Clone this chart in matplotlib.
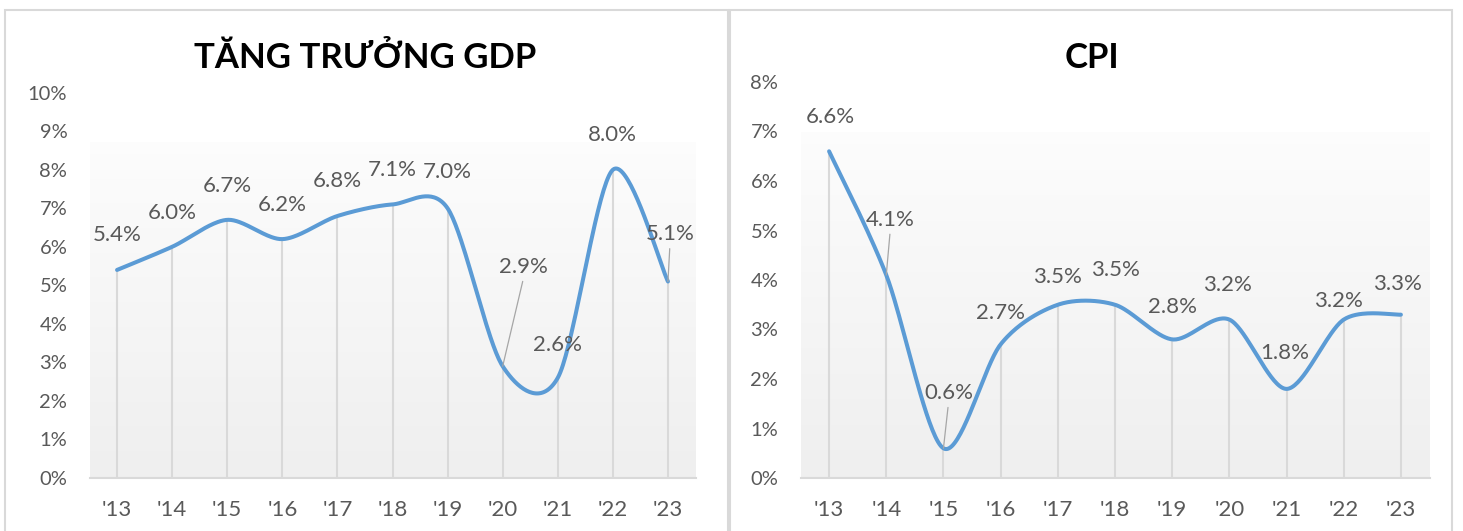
import numpy as np
import matplotlib.pyplot as plt
from matplotlib.patches import Rectangle

plt.rcParams['font.family'] = ['Lato', 'DejaVu Sans']

# data
years = ["'13", "'14", "'15", "'16", "'17", "'18", "'19", "'20", "'21", "'22", "'23"]
gdp = [5.4, 6.0, 6.7, 6.2, 6.8, 7.1, 7.0, 2.9, 2.6, 8.0, 5.1]
cpi = [6.6, 4.1, 0.6, 2.7, 3.5, 3.5, 2.8, 3.2, 1.8, 3.2, 3.3]

# label offsets in pixels from the point, and which ones have leader lines
gdp_off = [(0, 35), (0, 34), (0, 34), (0, 34), (0, 35), (0, 34), (0, 36),
           (21, 99), (0, 33), (0, 35), (2, 47)]
gdp_lead = [7, 10]
cpi_off = [(1, 34), (4, 55), (5, 55), (0, 31), (0, 28), (0, 35), (0, 32),
           (-2, 35), (-2, 36), (-5, 19), (-3, 31)]
cpi_lead = [1, 2]

BLUE = '#5b9bd5'
GRID = '#d9d9d9'
TXT = '#595959'


def excel_smooth(xs, ys, n=40):
    # bezier smoothing like excel's "smoothed line" (catmull-rom control points)
    p = np.column_stack([xs, ys]).astype(float)
    pts = []
    for i in range(len(p) - 1):
        p0 = p[i - 1] if i > 0 else p[i]
        p1, p2 = p[i], p[i + 1]
        p3 = p[i + 2] if i + 2 < len(p) else p[i + 1]
        c1 = p1 + (p2 - p0) / 6.8
        c2 = p2 - (p3 - p1) / 6.8
        t = np.linspace(0, 1, n)[:, None]
        seg = ((1 - t) ** 3 * p1 + 3 * (1 - t) ** 2 * t * c1
               + 3 * (1 - t) * t ** 2 * c2 + t ** 3 * p2)
        pts.append(seg if i == 0 else seg[1:])
    pts = np.vstack(pts)
    return pts[:, 0], pts[:, 1]


def draw(ax, vals, ymax, offs, lead, title, title_x):
    x = np.arange(len(vals))
    ax.set_xlim(-0.5, len(vals) - 0.5)
    ax.set_ylim(0, ymax)

    # gradient background
    grad = np.linspace(0, 1, 256)[:, None]
    top = np.array([0.99, 0.99, 0.99])
    bot = np.array([0.937, 0.937, 0.937])
    img = top + (bot - top) * grad[:, :, None]
    ax.imshow(img, extent=(0, 1, 0, 0.872), transform=ax.transAxes,
              aspect='auto', zorder=0)

    ax.vlines(x, 0, vals, color=GRID, lw=1.5, zorder=1)
    sx, sy = excel_smooth(x, vals)
    ax.plot(sx, sy, color=BLUE, lw=2.9, solid_capstyle='round', zorder=3)

    for i, v in enumerate(vals):
        kw = {}
        if i in lead:
            kw['arrowprops'] = dict(arrowstyle='-', color='#a6a6a6', lw=0.9,
                                    shrinkA=1, shrinkB=0, relpos=(0.5, 0))
        ax.annotate(f'{v:.1f}%', (x[i], v), xytext=offs[i],
                    textcoords='offset pixels', ha='center', va='center',
                    fontsize=16, color=TXT, zorder=4, **kw)

    ax.set_xticks(x)
    ax.set_xticklabels(years, fontsize=16, color=TXT)
    ax.set_yticks(np.arange(0, ymax + 1))
    ax.set_yticklabels([f'{int(t)}%' for t in np.arange(0, ymax + 1)],
                       fontsize=14.5, color=TXT)
    ax.tick_params(length=0)
    ax.tick_params(axis='x', pad=16)
    ax.tick_params(axis='y', pad=16)
    for s in ['top', 'right', 'left']:
        ax.spines[s].set_visible(False)
    ax.spines['bottom'].set_color(GRID)
    ax.spines['bottom'].set_linewidth(1.5)
    ax.spines['bottom'].set_zorder(2)
    ax.patch.set_alpha(0)

    fig.text(title_x, 1 - 67.7 / 531, title, ha='center', va='baseline',
             fontsize=25, fontweight='bold', color='black')


W, H = 1463, 531
fig = plt.figure(figsize=(W / 100, H / 100), dpi=100)

ax1 = fig.add_axes([89.5 / W, 53 / H, 606 / W, 385.3 / H])
ax2 = fig.add_axes([800.5 / W, 53 / H, 629 / W, 396 / H])

draw(ax1, gdp, 10, gdp_off, gdp_lead, 'TĂNG TRƯỞNG GDP', 365 / W)
draw(ax2, cpi, 8, cpi_off, cpi_lead, 'CPI', 1092 / W)

# panel borders
fig.patches.append(Rectangle((5 / W, -0.05), 723 / W, 1.05 - 9.5 / H,
                             transform=fig.transFigure, fill=False,
                             edgecolor=GRID, lw=1.5))
fig.patches.append(Rectangle((730 / W, -0.05), 722 / W, 1.05 - 9.5 / H,
                             transform=fig.transFigure, fill=False,
                             edgecolor=GRID, lw=1.5))

fig.savefig('out.png', dpi=100)
